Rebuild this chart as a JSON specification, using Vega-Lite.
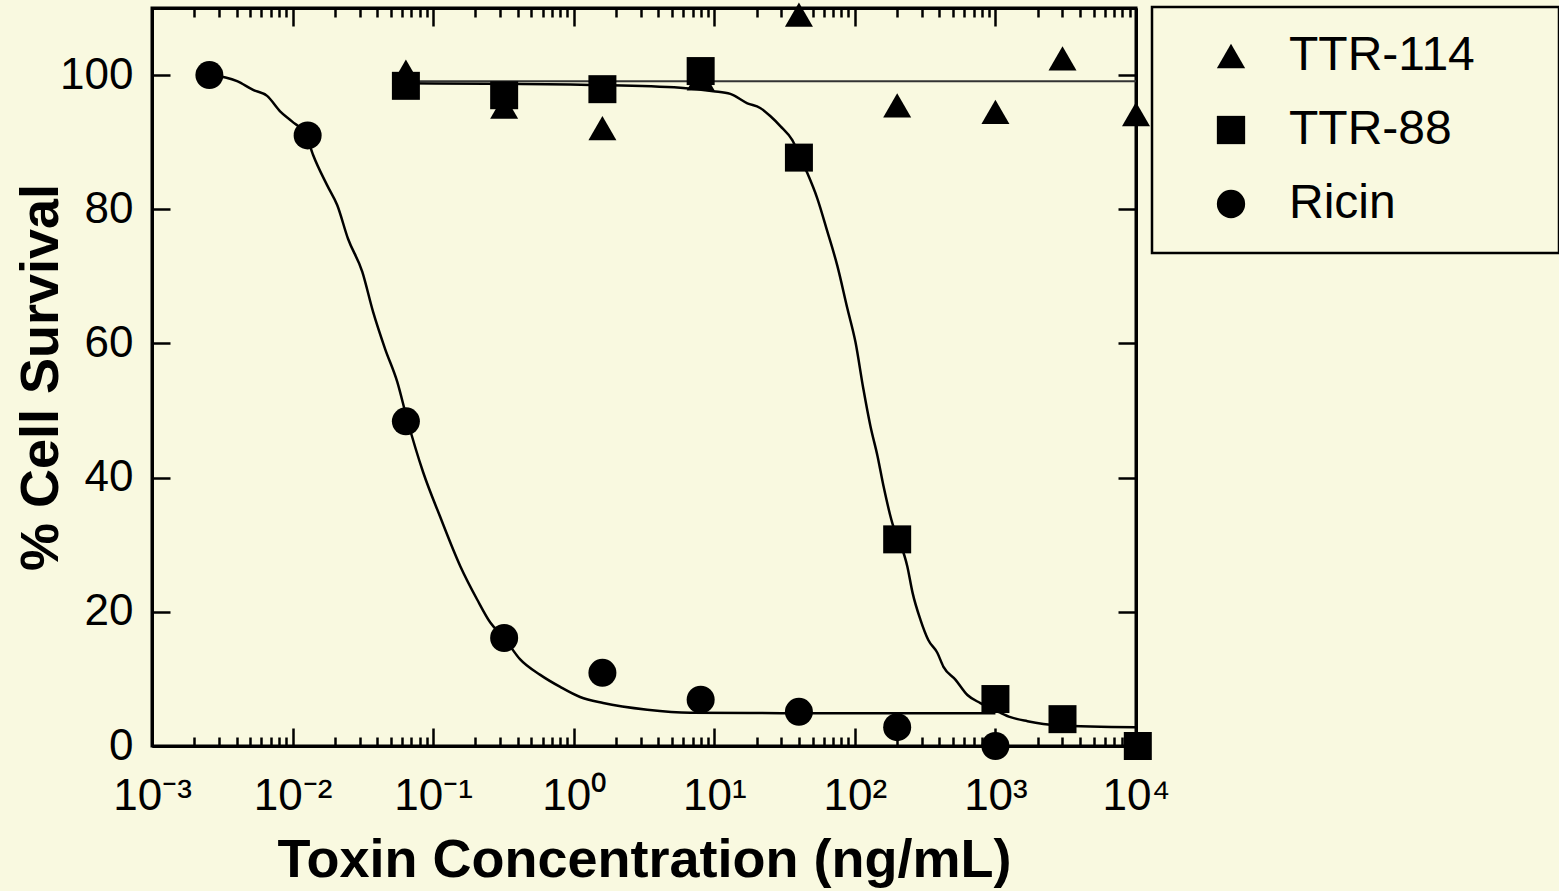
{
  "$schema": "https://vega.github.io/schema/vega-lite/v6.json",
  "width": 984,
  "height": 738,
  "autosize": "none",
  "padding": {"left": 152, "top": 8, "right": 423, "bottom": 145},
  "background": "#F9F9E0",
  "config": {
    "view": {"stroke": "black", "strokeWidth": 3},
    "legend": {"strokeWidth": 2.5},
    "axis": {
      "grid": false,
      "labelFont": "Liberation Sans",
      "labelFontSize": 44,
      "labelColor": "black",
      "titleFont": "Liberation Sans",
      "titleFontSize": 54,
      "titleFontWeight": "bold",
      "titleColor": "black",
      "domainColor": "black",
      "domainWidth": 3,
      "tickColor": "black",
      "tickWidth": 2.5
    }
  },
  "datasets": {
    "points": [
      {"toxin": "TTR-114", "conc": 0.064, "survival": 100.5},
      {"toxin": "TTR-114", "conc": 0.32, "survival": 95.3},
      {"toxin": "TTR-114", "conc": 1.6, "survival": 92.1},
      {"toxin": "TTR-114", "conc": 8, "survival": 99.5},
      {"toxin": "TTR-114", "conc": 40, "survival": 109},
      {"toxin": "TTR-114", "conc": 200, "survival": 95.5},
      {"toxin": "TTR-114", "conc": 1000, "survival": 94.5},
      {"toxin": "TTR-114", "conc": 3000, "survival": 102.5},
      {"toxin": "TTR-114", "conc": 10000, "survival": 94.2},
      {"toxin": "TTR-88", "conc": 0.064, "survival": 98.4},
      {"toxin": "TTR-88", "conc": 0.32, "survival": 97.0},
      {"toxin": "TTR-88", "conc": 1.6, "survival": 97.9},
      {"toxin": "TTR-88", "conc": 8, "survival": 100.6},
      {"toxin": "TTR-88", "conc": 40, "survival": 87.7},
      {"toxin": "TTR-88", "conc": 200, "survival": 30.8},
      {"toxin": "TTR-88", "conc": 1000, "survival": 7.0},
      {"toxin": "TTR-88", "conc": 3000, "survival": 4.0},
      {"toxin": "TTR-88", "conc": 10300, "survival": 0.0},
      {"toxin": "Ricin", "conc": 0.00256, "survival": 100},
      {"toxin": "Ricin", "conc": 0.0128, "survival": 91.0},
      {"toxin": "Ricin", "conc": 0.064, "survival": 48.4},
      {"toxin": "Ricin", "conc": 0.32, "survival": 16.1},
      {"toxin": "Ricin", "conc": 1.6, "survival": 10.9},
      {"toxin": "Ricin", "conc": 8, "survival": 6.9},
      {"toxin": "Ricin", "conc": 40, "survival": 5.1},
      {"toxin": "Ricin", "conc": 200, "survival": 2.8},
      {"toxin": "Ricin", "conc": 1000, "survival": 0.0}
    ],
    "curves": [
      {"toxin": "Ricin", "conc": 0.00256, "survival": 100.1},
      {"toxin": "Ricin", "conc": 0.00403, "survival": 99.1},
      {"toxin": "Ricin", "conc": 0.00524, "survival": 97.8},
      {"toxin": "Ricin", "conc": 0.00659, "survival": 96.9},
      {"toxin": "Ricin", "conc": 0.00815, "survival": 94.6},
      {"toxin": "Ricin", "conc": 0.0099, "survival": 93.1},
      {"toxin": "Ricin", "conc": 0.0125, "survival": 91.0},
      {"toxin": "Ricin", "conc": 0.014, "survival": 88.1},
      {"toxin": "Ricin", "conc": 0.0176, "survival": 83.6},
      {"toxin": "Ricin", "conc": 0.0208, "survival": 80.6},
      {"toxin": "Ricin", "conc": 0.0248, "survival": 75.6},
      {"toxin": "Ricin", "conc": 0.0313, "survival": 70.7},
      {"toxin": "Ricin", "conc": 0.0374, "survival": 64.7},
      {"toxin": "Ricin", "conc": 0.0455, "survival": 59.2},
      {"toxin": "Ricin", "conc": 0.0555, "survival": 54.3},
      {"toxin": "Ricin", "conc": 0.0653, "survival": 48.7},
      {"toxin": "Ricin", "conc": 0.0849, "survival": 40.8},
      {"toxin": "Ricin", "conc": 0.112, "survival": 34.2},
      {"toxin": "Ricin", "conc": 0.156, "survival": 26.8},
      {"toxin": "Ricin", "conc": 0.206, "survival": 21.8},
      {"toxin": "Ricin", "conc": 0.255, "survival": 18.4},
      {"toxin": "Ricin", "conc": 0.32, "survival": 16.1},
      {"toxin": "Ricin", "conc": 0.416, "survival": 12.9},
      {"toxin": "Ricin", "conc": 0.578, "survival": 10.6},
      {"toxin": "Ricin", "conc": 0.802, "survival": 8.8},
      {"toxin": "Ricin", "conc": 1.11, "survival": 7.3},
      {"toxin": "Ricin", "conc": 1.62, "survival": 6.4},
      {"toxin": "Ricin", "conc": 3.34, "survival": 5.4},
      {"toxin": "Ricin", "conc": 6.75, "survival": 4.95},
      {"toxin": "Ricin", "conc": 30, "survival": 4.9},
      {"toxin": "Ricin", "conc": 1000, "survival": 4.9},
      {"toxin": "TTR-88", "conc": 0.064, "survival": 98.8},
      {"toxin": "TTR-88", "conc": 1.54, "survival": 98.5},
      {"toxin": "TTR-88", "conc": 5.73, "survival": 98.1},
      {"toxin": "TTR-88", "conc": 9.84, "survival": 97.6},
      {"toxin": "TTR-88", "conc": 13.0, "survival": 97.2},
      {"toxin": "TTR-88", "conc": 17.2, "survival": 95.8},
      {"toxin": "TTR-88", "conc": 21.2, "survival": 95.1},
      {"toxin": "TTR-88", "conc": 25.0, "survival": 93.9},
      {"toxin": "TTR-88", "conc": 29.5, "survival": 92.4},
      {"toxin": "TTR-88", "conc": 35.9, "survival": 90.3},
      {"toxin": "TTR-88", "conc": 40.9, "survival": 87.7},
      {"toxin": "TTR-88", "conc": 45.9, "survival": 85.4},
      {"toxin": "TTR-88", "conc": 54.1, "survival": 81.6},
      {"toxin": "TTR-88", "conc": 63.7, "survival": 76.7},
      {"toxin": "TTR-88", "conc": 75.0, "survival": 71.6},
      {"toxin": "TTR-88", "conc": 88.5, "survival": 65.2},
      {"toxin": "TTR-88", "conc": 101, "survival": 60.2},
      {"toxin": "TTR-88", "conc": 115, "survival": 53.2},
      {"toxin": "TTR-88", "conc": 129, "survival": 47.7},
      {"toxin": "TTR-88", "conc": 145, "survival": 43.2},
      {"toxin": "TTR-88", "conc": 160, "survival": 38.7},
      {"toxin": "TTR-88", "conc": 188, "survival": 32.7},
      {"toxin": "TTR-88", "conc": 207, "survival": 30.6},
      {"toxin": "TTR-88", "conc": 236, "survival": 26.8},
      {"toxin": "TTR-88", "conc": 257, "survival": 22.9},
      {"toxin": "TTR-88", "conc": 293, "survival": 18.8},
      {"toxin": "TTR-88", "conc": 333, "survival": 15.8},
      {"toxin": "TTR-88", "conc": 386, "survival": 13.9},
      {"toxin": "TTR-88", "conc": 427, "survival": 11.8},
      {"toxin": "TTR-88", "conc": 519, "survival": 9.9},
      {"toxin": "TTR-88", "conc": 632, "survival": 7.6},
      {"toxin": "TTR-88", "conc": 782, "survival": 6.4},
      {"toxin": "TTR-88", "conc": 1050, "survival": 5.1},
      {"toxin": "TTR-88", "conc": 1279, "survival": 4.3},
      {"toxin": "TTR-88", "conc": 1690, "survival": 3.7},
      {"toxin": "TTR-88", "conc": 2761, "survival": 3.1},
      {"toxin": "TTR-88", "conc": 10000, "survival": 2.8},
      {"toxin": "TTR-114", "conc": 0.064, "survival": 99.1},
      {"toxin": "TTR-114", "conc": 10000, "survival": 99.1}
    ]
  },
  "layer": [
    {
      "data": {"name": "curves"},
      "transform": [{"filter": "datum.toxin !== 'TTR-114'"}],
      "mark": {"type": "line", "color": "black", "strokeWidth": 2.5, "interpolate": "monotone"},
      "encoding": {
        "x": {
          "field": "conc", "type": "quantitative",
          "scale": {"type": "log", "domain": [0.001, 10000], "nice": false},
          "axis": {
            "orient": "bottom",
            "title": "Toxin Concentration (ng/mL)",
            "titlePadding": 6,
            "values": [0.001,0.002,0.003,0.004,0.005,0.006,0.007,0.008,0.009,0.01,0.02,0.03,0.04,0.05,0.06,0.07,0.08,0.09,0.1,0.2,0.3,0.4,0.5,0.6,0.7,0.8,0.9,1,2,3,4,5,6,7,8,9,10,20,30,40,50,60,70,80,90,100,200,300,400,500,600,700,800,900,1000,2000,3000,4000,5000,6000,7000,8000,9000,10000],
            "labelExpr": "abs(log(datum.value)/LN10 - round(log(datum.value)/LN10)) < 0.001 ? '10' + ['⁻³','⁻²','⁻¹','⁰','¹','²','³','⁴'][round(log(datum.value)/LN10)+3] : ''",
            "labelOverlap": false,
            "labelFlush": false,
            "labelPadding": 46,
            "tickSize": {"condition": {"test": "abs(log(datum.value)/LN10 - round(log(datum.value)/LN10)) < 0.001", "value": -18}, "value": -9}
          }
        },
        "y": {
          "field": "survival", "type": "quantitative",
          "scale": {"domain": [0, 110], "nice": false},
          "axis": {
            "orient": "left",
            "title": "% Cell Survival",
            "titlePadding": -9,
            "values": [0, 20, 40, 60, 80, 100],
            "tickSize": -18,
            "labelPadding": 37
          }
        },
        "detail": {"field": "toxin"}
      }
    },
    {
      "data": {"name": "curves"},
      "transform": [{"filter": "datum.toxin === 'TTR-114'"}],
      "mark": {"type": "line", "color": "#333333", "strokeWidth": 2},
      "encoding": {
        "x": {"field": "conc", "type": "quantitative", "axis": null},
        "y": {"field": "survival", "type": "quantitative", "axis": null}
      }
    },
    {
      "data": {"name": "points"},
      "mark": {"type": "point", "filled": true, "color": "black", "opacity": 1, "size": 784},
      "encoding": {
        "x": {
          "field": "conc", "type": "quantitative",
          "axis": {
            "orient": "top",
            "title": null,
            "labels": false,
            "values": [0.001,0.002,0.003,0.004,0.005,0.006,0.007,0.008,0.009,0.01,0.02,0.03,0.04,0.05,0.06,0.07,0.08,0.09,0.1,0.2,0.3,0.4,0.5,0.6,0.7,0.8,0.9,1,2,3,4,5,6,7,8,9,10,20,30,40,50,60,70,80,90,100,200,300,400,500,600,700,800,900,1000,2000,3000,4000,5000,6000,7000,8000,9000,10000],
            "tickSize": {"condition": {"test": "abs(log(datum.value)/LN10 - round(log(datum.value)/LN10)) < 0.001", "value": -18}, "value": -9}
          }
        },
        "y": {
          "field": "survival", "type": "quantitative",
          "axis": {
            "orient": "right",
            "title": null,
            "labels": false,
            "values": [0, 20, 40, 60, 80, 100],
            "tickSize": -18
          }
        },
        "shape": {
          "field": "toxin", "type": "nominal",
          "scale": {"domain": ["TTR-114", "TTR-88", "Ricin"], "range": ["triangle-up", "square", "circle"]},
          "legend": {
            "orient": "none",
            "legendX": 1000,
            "legendY": -1,
            "title": "MM",
            "titleOrient": "right",
            "titleFontSize": 20,
            "titlePadding": 25,
            "titleOpacity": 0,
            "strokeColor": "black",
            "padding": 25,
            "symbolOffset": 30,
            "labelOffset": 34,
            "rowPadding": 26,
            "symbolSize": 800,
            "symbolFillColor": "black",
            "symbolStrokeColor": "black",
            "symbolStrokeWidth": 0,
            "labelFont": "Liberation Sans",
            "labelFontSize": 48,
            "labelColor": "black",
            "labelLimit": 0
          }
        }
      }
    }
  ],
  "resolve": {"axis": {"x": "independent", "y": "independent"}}
}
